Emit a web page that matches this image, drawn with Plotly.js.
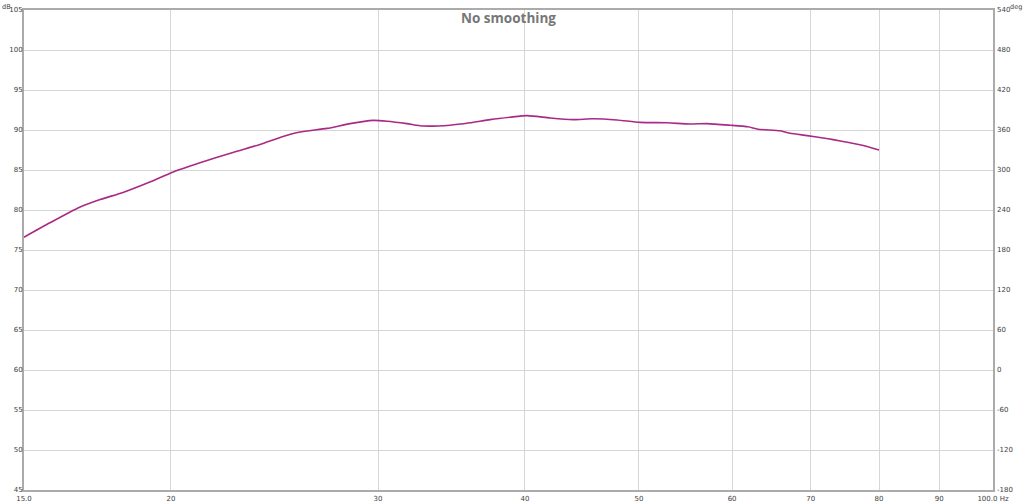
<!DOCTYPE html>
<html>
<head>
<meta charset="utf-8">
<script src="https://cdn.plot.ly/plotly-3.0.1.min.js"></script>
<style>html,body{margin:0;padding:0;background:#fff}#chart{width:1024px;height:503px}</style>
</head>
<body>
<div id="chart"></div>
<script>
// Frequency (Hz) and SPL (dB)
var freq = [15.0, 15.78, 16.64, 17.41, 18.21, 19.19, 20.04, 21.17, 22.58, 23.81, 24.91, 25.75, 27.15, 28.40, 29.71, 30.53, 31.75, 32.76, 34.54, 35.92, 37.36, 38.85, 40.17, 42.02, 43.95, 45.71, 47.90, 50.11, 52.83, 55.26, 57.13, 59.76, 61.91, 63.13, 65.91, 67.22, 69.49, 71.70, 73.12, 75.60, 77.40, 80.0];
var spl  = [76.6, 78.4, 80.2, 81.3, 82.2, 83.5, 84.7, 85.9, 87.2, 88.2, 89.2, 89.75, 90.2, 90.8, 91.2, 91.1, 90.8, 90.5, 90.6, 90.9, 91.3, 91.6, 91.8, 91.5, 91.3, 91.4, 91.25, 90.95, 90.9, 90.75, 90.8, 90.6, 90.4, 90.1, 89.9, 89.6, 89.3, 89.0, 88.8, 88.4, 88.1, 87.5];

var xTickVals = [15, 20, 30, 40, 50, 60, 70, 80, 90, 100];
var xTickText = ['15.0', '20', '30', '40', '50', '60', '70', '80', '90', '100.0 Hz'];
var dbTicks = [45, 50, 55, 60, 65, 70, 75, 80, 85, 90, 95, 100, 105];
var degTicks = [-180, -120, -60, 0, 60, 120, 180, 240, 300, 360, 420, 480, 540];
var degText = ['-180', '-120', '-60', '0', '60', '120', '180', '240', '300', '360', '420', '480', '540'];

var tickFont = {family: 'DejaVu Sans', size: 7, color: '#404040'};
var unitFont = {family: 'DejaVu Sans', size: 6.5, color: '#404040'};

var traces = [
  {x: freq, y: spl, type: 'scatter', mode: 'lines', line: {color: '#a92a86', width: 1.6, shape: 'spline', smoothing: 0.6}, hoverinfo: 'skip', showlegend: false},
  {x: [15], y: [null], yaxis: 'y2', type: 'scatter', mode: 'lines', hoverinfo: 'skip', showlegend: false}
];

var layout = {
  width: 1024, height: 503,
  margin: {l: 24, r: 31, t: 10, b: 13, pad: 0},
  paper_bgcolor: '#fff', plot_bgcolor: '#fff',
  showlegend: false,
  xaxis: {type: 'log', range: [Math.log10(15), 2], tickvals: xTickVals, ticktext: xTickText,
    showgrid: true, gridcolor: '#d6d6d6', gridwidth: 1, zeroline: false,
    showline: true, linecolor: '#ababab', linewidth: 2, mirror: true,
    ticks: '', tickfont: tickFont, ticklabelstandoff: 1},
  yaxis: {range: [45, 105], tickvals: dbTicks, showgrid: true, gridcolor: '#d6d6d6', gridwidth: 1,
    zeroline: false, showline: true, linecolor: '#ababab', linewidth: 2, mirror: true,
    ticks: '', tickfont: tickFont, ticklabelstandoff: -2},
  yaxis2: {range: [-180, 540], tickvals: degTicks, ticktext: degText, overlaying: 'y', side: 'right',
    showgrid: false, zeroline: false, showline: false, ticks: '', tickfont: tickFont, ticklabelstandoff: 3},
  annotations: [
    {text: 'No smoothing', xref: 'paper', yref: 'paper', x: 0.5, y: 1, yshift: -8, xanchor: 'center', yanchor: 'middle',
      showarrow: false, font: {family: 'Open Sans', size: 13.5, color: '#777777', weight: 'bold'}},
    {text: 'dB', xref: 'paper', yref: 'paper', x: 0, xshift: -18, y: 1, yshift: 8, xanchor: 'center', yanchor: 'top',
      borderpad: 0, showarrow: false, font: unitFont},
    {text: 'deg', xref: 'paper', yref: 'paper', x: 1, xshift: 23, y: 1, yshift: 8, xanchor: 'center', yanchor: 'top',
      borderpad: 0, showarrow: false, font: unitFont}
  ]
};

Plotly.newPlot('chart', traces, layout, {staticPlot: true, displayModeBar: false});
</script>
</body>
</html>
